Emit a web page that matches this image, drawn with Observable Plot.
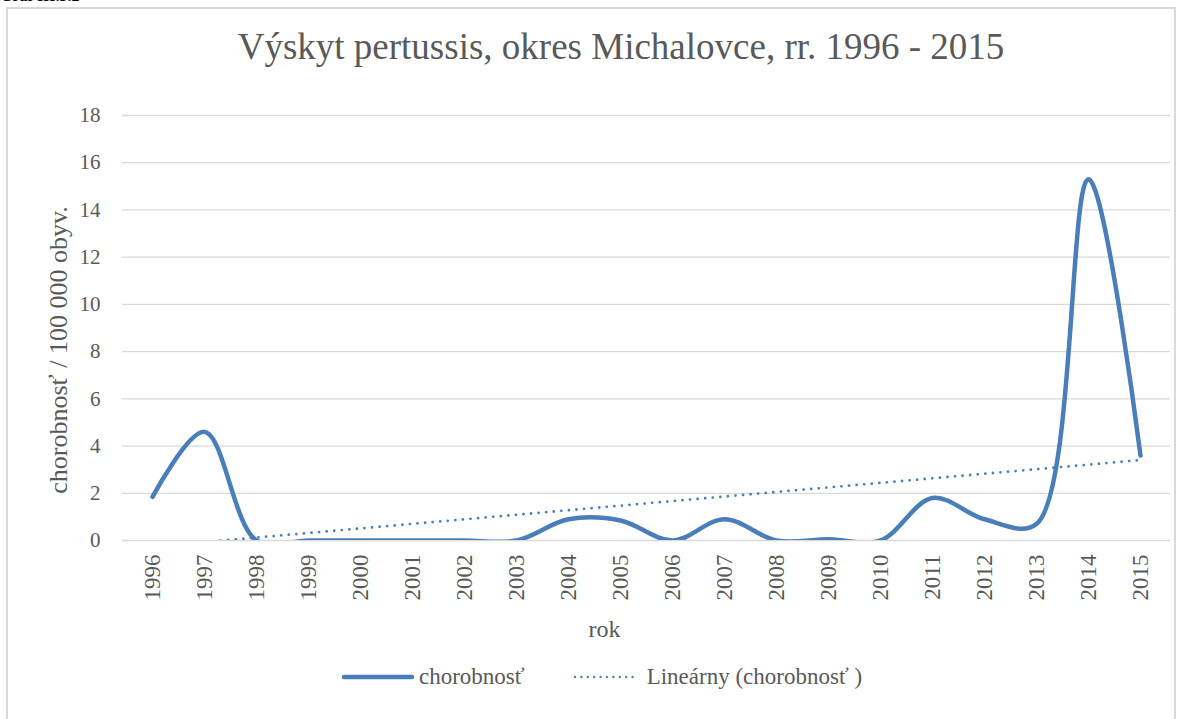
<!DOCTYPE html>
<html><head><meta charset="utf-8">
<script src="https://cdn.jsdelivr.net/npm/d3@7"></script>
<script src="https://cdn.jsdelivr.net/npm/@observablehq/plot@0.6"></script>
<style>
body{margin:0;background:#fff;}
#wrap{position:relative;width:1182px;height:719px;overflow:hidden;font-family:"Liberation Serif","Times New Roman",serif;color:#595959;}
#graf{position:absolute;left:0;top:-13px;font-weight:bold;font-size:16px;color:#000;}
#frame{position:absolute;left:6px;top:7px;width:1170px;height:760px;border:2px solid #d9d9d9;box-sizing:border-box;}
#chart{position:absolute;left:0;top:0;}
#title{position:absolute;left:0;width:1242px;top:25px;text-align:center;font-size:37px;color:#595959;white-space:nowrap;}
#legend{position:absolute;top:662px;left:342px;height:30px;display:flex;align-items:center;font-size:23px;color:#595959;white-space:nowrap;}
#legend svg{display:block;}
</style></head><body>
<div id="wrap">
  <div id="graf">Graf III.3.2</div>
  <div id="frame"></div>
  <div id="chart"></div>
  <div id="title">Výskyt pertussis, okres Michalovce, rr. 1996 - 2015</div>
  <div id="legend">
    <svg width="72" height="10"><line x1="2" y1="5" x2="70" y2="5" stroke="#4a7ebb" stroke-width="4.5" stroke-linecap="round"/></svg>
    <span style="margin-left:5px">chorobnosť</span>
    <svg width="64" height="10" style="margin-left:48px"><line x1="2" y1="5" x2="60" y2="5" stroke="#4a7ebb" stroke-width="2.4" stroke-linecap="round" stroke-dasharray="0 6.4"/></svg>
    <span style="margin-left:10px">Lineárny (chorobnosť )</span>
  </div>
</div>
<script>
const years = ["1996","1997","1998","1999","2000","2001","2002","2003","2004","2005","2006","2007","2008","2009","2010","2011","2012","2013","2014","2015"];
const incidence = [1.85, 4.6, 0, 0, 0, 0, 0, 0, 0.9, 0.85, 0, 0.9, 0, 0.05, 0, 1.8, 0.9, 0.7, 15.3, 3.6];
const yTicks = [0, 2, 4, 6, 8, 10, 12, 14, 16, 18];
const yLabel = "chorobnosť / 100 000 obyv.";
const xLabel = "rok";

const data = years.map((y, i) => ({year: y, value: incidence[i]}));
// linear trend (least squares over year index)
const n = incidence.length;
const mx = d3.mean(d3.range(n)), my = d3.mean(incidence);
const slope = d3.sum(d3.range(n), i => (i - mx) * (incidence[i] - my)) / d3.sum(d3.range(n), i => (i - mx) ** 2);
const icpt = my - slope * mx;
const trend = [{year: years[0], value: icpt}, {year: years[n - 1], value: icpt + slope * (n - 1)}];

const blue = "#4a7ebb";
const chart = Plot.plot({
  width: 1182,
  height: 719,
  marginLeft: 122,
  marginRight: 12,
  marginTop: 115,
  marginBottom: 179,
  style: {fontFamily: '"Liberation Serif","Times New Roman",serif', color: "#595959", background: "transparent"},
  x: {type: "point", domain: years, padding: 0.5},
  y: {domain: [0, 18]},
  marks: [
    Plot.gridY(yTicks, {stroke: "#d9d9d9", strokeOpacity: 1, strokeWidth: 1.3}),
    Plot.axisY(yTicks, {tickSize: 0, tickPadding: 22, fontSize: 21, label: null}),
    Plot.axisX({tickSize: 0, tickPadding: 14, tickRotate: -90, fontSize: 23, label: null}),
    Plot.line(trend, {x: "year", y: "value", stroke: blue, strokeWidth: 2.8, strokeDasharray: "0 7.6", strokeLinecap: "round", clip: true}),
    Plot.line(data, {x: "year", y: "value", stroke: blue, strokeWidth: 4.5, curve: "catmull-rom", clip: true}),
    Plot.text([yLabel], {text: d => d, frameAnchor: "left", textAnchor: "middle", rotate: -90, dx: -64, dy: 22, fontSize: 26, fill: "#595959"}),
    Plot.text([xLabel], {text: d => d, frameAnchor: "bottom", textAnchor: "middle", dx: -42, dy: 96, fontSize: 24, fill: "#595959"})
  ]
});
document.getElementById("chart").appendChild(chart);
</script>
</body></html>
